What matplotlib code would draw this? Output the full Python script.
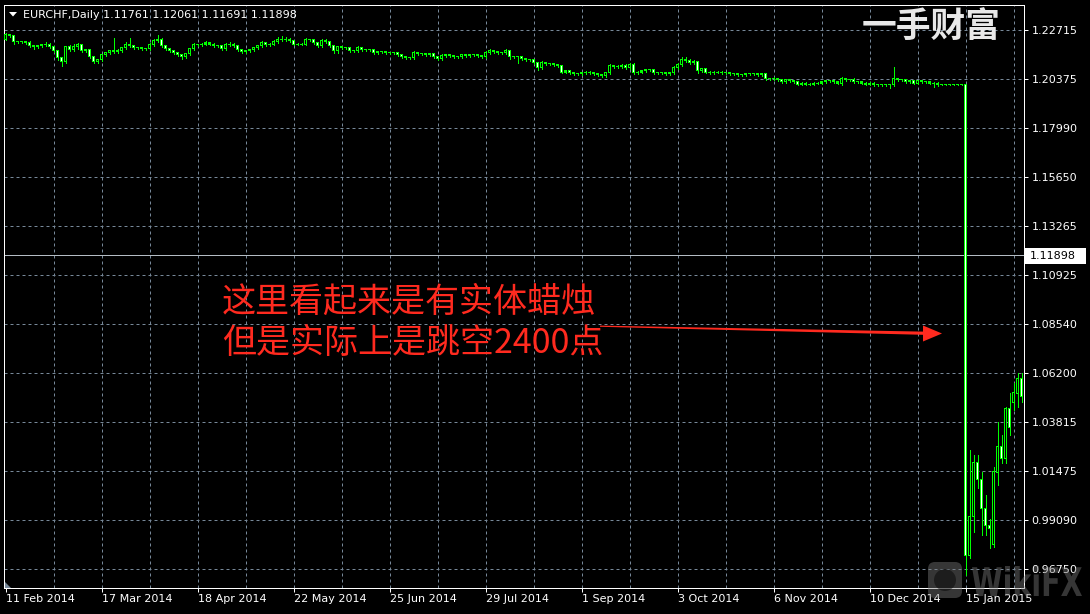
import matplotlib
matplotlib.use("Agg")
import matplotlib.pyplot as plt
from matplotlib.patches import Rectangle, Polygon, FancyBboxPatch, PathPatch, Circle
from matplotlib.collections import PatchCollection
from matplotlib.textpath import TextPath
from matplotlib.font_manager import FontProperties
from matplotlib.transforms import Affine2D

# ---------------- data ----------------
symbol = "EURCHF,Daily"
header_ohlc = ["1.11761", "1.12061", "1.11691", "1.11898"]
bid_price = 1.11898

date_labels = ["11 Feb 2014", "17 Mar 2014", "18 Apr 2014", "22 May 2014", "25 Jun 2014",
               "29 Jul 2014", "1 Sep 2014", "3 Oct 2014", "6 Nov 2014", "10 Dec 2014",
               "15 Jan 2015"]
date_label_bars = [0, 24, 48, 72, 96, 120, 144, 168, 192, 216, 240]

price_ticks = [1.22715, 1.20375, 1.17990, 1.15650, 1.13265, 1.10925,
               1.08540, 1.06200, 1.03815, 1.01475, 0.99090, 0.96750]

closes = [
    1.2249, 1.2244, 1.2215, 1.2215, 1.2215, 1.2210, 1.2196, 1.2191, 1.2196, 1.2201,
    1.2205, 1.2191, 1.2172, 1.2138, 1.2119, 1.2191, 1.2177, 1.2191, 1.2201, 1.2172,
    1.2177, 1.2143, 1.2119, 1.2128, 1.2153, 1.2162, 1.2172, 1.2167, 1.2172, 1.2186,
    1.2205, 1.2196, 1.2186, 1.2186, 1.2181, 1.2181, 1.2201, 1.2220, 1.2229, 1.2196,
    1.2181, 1.2172, 1.2162, 1.2153, 1.2143, 1.2157, 1.2181, 1.2201, 1.2201, 1.2205,
    1.2210, 1.2205, 1.2196, 1.2196, 1.2181, 1.2201, 1.2205, 1.2196, 1.2177, 1.2167,
    1.2172, 1.2177, 1.2186, 1.2196, 1.2210, 1.2201, 1.2205, 1.2215, 1.2229, 1.2225,
    1.2229, 1.2220, 1.2205, 1.2205, 1.2205, 1.2225, 1.2225, 1.2210, 1.2196, 1.2220,
    1.2215, 1.2196, 1.2172, 1.2191, 1.2186, 1.2186, 1.2172, 1.2172, 1.2186, 1.2177,
    1.2177, 1.2177, 1.2162, 1.2167, 1.2167, 1.2162, 1.2162, 1.2162, 1.2153, 1.2143,
    1.2138, 1.2138, 1.2162, 1.2157, 1.2157, 1.2153, 1.2157, 1.2143, 1.2133, 1.2148,
    1.2153, 1.2148, 1.2143, 1.2143, 1.2153, 1.2148, 1.2153, 1.2153, 1.2148, 1.2143,
    1.2162, 1.2172, 1.2167, 1.2162, 1.2162, 1.2172, 1.2143, 1.2143, 1.2143, 1.2133,
    1.2128, 1.2128, 1.2114, 1.2090, 1.2114, 1.2109, 1.2109, 1.2104, 1.2099, 1.2070,
    1.2075, 1.2066, 1.2061, 1.2061, 1.2066, 1.2070, 1.2066, 1.2061, 1.2056, 1.2051,
    1.2066, 1.2099, 1.2095, 1.2095, 1.2099, 1.2090, 1.2104, 1.2066, 1.2070, 1.2075,
    1.2080, 1.2080, 1.2066, 1.2066, 1.2066, 1.2061, 1.2066, 1.2090, 1.2104, 1.2128,
    1.2124, 1.2114, 1.2119, 1.2075, 1.2085, 1.2070, 1.2066, 1.2070, 1.2070, 1.2066,
    1.2066, 1.2061, 1.2061, 1.2056, 1.2056, 1.2061, 1.2061, 1.2061, 1.2056, 1.2061,
    1.2037, 1.2037, 1.2037, 1.2032, 1.2022, 1.2032, 1.2027, 1.2022, 1.2012, 1.2017,
    1.2012, 1.2012, 1.2017, 1.2017, 1.2022, 1.2027, 1.2027, 1.2022, 1.2017, 1.2037,
    1.2032, 1.2032, 1.2022, 1.2022, 1.2017, 1.2012, 1.2017, 1.2008, 1.2008, 1.2008,
    1.2008, 1.2008, 1.2037, 1.2032, 1.2032, 1.2022, 1.2027, 1.2017, 1.2027, 1.2022,
    1.2022, 1.2017, 1.2017, 1.2008, 1.2008, 1.2008, 1.2008, 1.2008, 1.2008, 1.2008,
    0.9742, 0.9930, 1.0188, 1.0104, 0.9964, 0.9882, 0.9868, 1.0143, 1.0263, 1.0205,
    1.0446, 1.0355, 1.0523, 1.0591, 1.0504,
]

opens = [
    1.2229,
    1.2249, 1.2244, 1.2215, 1.2215, 1.2215, 1.2210, 1.2196, 1.2191, 1.2196, 1.2201,
    1.2205, 1.2191, 1.2172, 1.2138, 1.2119, 1.2191, 1.2177, 1.2191, 1.2201, 1.2172,
    1.2177, 1.2143, 1.2119, 1.2128, 1.2153, 1.2162, 1.2172, 1.2167, 1.2172, 1.2186,
    1.2205, 1.2196, 1.2186, 1.2186, 1.2181, 1.2181, 1.2201, 1.2220, 1.2229, 1.2196,
    1.2181, 1.2172, 1.2162, 1.2153, 1.2143, 1.2157, 1.2181, 1.2201, 1.2201, 1.2205,
    1.2210, 1.2205, 1.2196, 1.2196, 1.2181, 1.2201, 1.2205, 1.2196, 1.2177, 1.2167,
    1.2172, 1.2177, 1.2186, 1.2196, 1.2210, 1.2201, 1.2205, 1.2215, 1.2229, 1.2225,
    1.2229, 1.2220, 1.2205, 1.2205, 1.2205, 1.2225, 1.2225, 1.2210, 1.2196, 1.2220,
    1.2215, 1.2196, 1.2172, 1.2191, 1.2186, 1.2186, 1.2172, 1.2172, 1.2186, 1.2177,
    1.2177, 1.2177, 1.2162, 1.2167, 1.2167, 1.2162, 1.2162, 1.2162, 1.2153, 1.2143,
    1.2138, 1.2138, 1.2162, 1.2157, 1.2157, 1.2153, 1.2157, 1.2143, 1.2133, 1.2148,
    1.2153, 1.2148, 1.2143, 1.2143, 1.2153, 1.2148, 1.2153, 1.2153, 1.2148, 1.2143,
    1.2162, 1.2172, 1.2167, 1.2162, 1.2162, 1.2172, 1.2143, 1.2143, 1.2143, 1.2133,
    1.2128, 1.2128, 1.2114, 1.2090, 1.2114, 1.2109, 1.2109, 1.2104, 1.2099, 1.2070,
    1.2075, 1.2066, 1.2061, 1.2061, 1.2066, 1.2070, 1.2066, 1.2061, 1.2056, 1.2051,
    1.2066, 1.2099, 1.2095, 1.2095, 1.2099, 1.2090, 1.2104, 1.2066, 1.2070, 1.2075,
    1.2080, 1.2080, 1.2066, 1.2066, 1.2066, 1.2061, 1.2066, 1.2090, 1.2104, 1.2128,
    1.2124, 1.2114, 1.2119, 1.2075, 1.2085, 1.2070, 1.2066, 1.2070, 1.2070, 1.2066,
    1.2066, 1.2061, 1.2061, 1.2056, 1.2056, 1.2061, 1.2061, 1.2061, 1.2056, 1.2061,
    1.2037, 1.2037, 1.2037, 1.2032, 1.2022, 1.2032, 1.2027, 1.2022, 1.2012, 1.2017,
    1.2012, 1.2012, 1.2017, 1.2017, 1.2022, 1.2027, 1.2027, 1.2022, 1.2017, 1.2037,
    1.2032, 1.2032, 1.2022, 1.2022, 1.2017, 1.2012, 1.2017, 1.2008, 1.2008, 1.2008,
    1.2008, 1.2008, 1.2037, 1.2032, 1.2032, 1.2022, 1.2027, 1.2017, 1.2027, 1.2022,
    1.2022, 1.2017, 1.2017, 1.2008, 1.2008, 1.2008, 1.2008, 1.2008, 1.2008, 1.2008,
    0.9738, 0.9930, 1.0188, 1.0104, 0.9964, 0.9882, 0.9791, 1.0138, 1.0263, 1.0205,
    1.0446, 1.0475, 1.0519, 1.0591,
]

# wick lengths above / below the candle body (price units)
upper_wicks = [
    0.0010, 0.0005, 0.0005, 0.0005, 0.0005, 0.0005, 0.0010, 0.0005, 0.0005, 0.0005,
    0.0010, 0.0005, 0.0005, 0.0005, 0.0005, 0.0005, 0.0010, 0.0015, 0.0010, 0.0005,
    0.0005, 0.0005, 0.0005, 0.0005, 0.0005, 0.0005, 0.0005, 0.0062, 0.0010, 0.0005,
    0.0010, 0.0029, 0.0005, 0.0005, 0.0005, 0.0005, 0.0010, 0.0010, 0.0020, 0.0005,
    0.0005, 0.0005, 0.0005, 0.0005, 0.0005, 0.0005, 0.0005, 0.0010, 0.0005, 0.0005,
    0.0010, 0.0005, 0.0005, 0.0005, 0.0005, 0.0010, 0.0010, 0.0005, 0.0005, 0.0005,
    0.0005, 0.0005, 0.0005, 0.0005, 0.0010, 0.0005, 0.0005, 0.0010, 0.0010, 0.0015,
    0.0010, 0.0005, 0.0005, 0.0005, 0.0005, 0.0010, 0.0005, 0.0005, 0.0005, 0.0010,
    0.0010, 0.0005, 0.0005, 0.0005, 0.0005, 0.0005, 0.0005, 0.0005, 0.0010, 0.0005,
    0.0005, 0.0005, 0.0005, 0.0005, 0.0005, 0.0005, 0.0005, 0.0005, 0.0005, 0.0005,
    0.0005, 0.0005, 0.0010, 0.0005, 0.0005, 0.0005, 0.0005, 0.0005, 0.0005, 0.0010,
    0.0005, 0.0005, 0.0005, 0.0005, 0.0005, 0.0005, 0.0005, 0.0005, 0.0005, 0.0005,
    0.0010, 0.0010, 0.0005, 0.0005, 0.0005, 0.0010, 0.0005, 0.0005, 0.0005, 0.0005,
    0.0005, 0.0005, 0.0005, 0.0005, 0.0010, 0.0005, 0.0005, 0.0005, 0.0005, 0.0005,
    0.0005, 0.0005, 0.0005, 0.0005, 0.0005, 0.0005, 0.0005, 0.0005, 0.0005, 0.0005,
    0.0005, 0.0010, 0.0005, 0.0010, 0.0010, 0.0010, 0.0010, 0.0010, 0.0005, 0.0005,
    0.0005, 0.0005, 0.0005, 0.0005, 0.0005, 0.0005, 0.0005, 0.0010, 0.0010, 0.0015,
    0.0015, 0.0010, 0.0010, 0.0005, 0.0005, 0.0005, 0.0005, 0.0005, 0.0005, 0.0005,
    0.0005, 0.0005, 0.0005, 0.0005, 0.0005, 0.0005, 0.0005, 0.0005, 0.0005, 0.0005,
    0.0005, 0.0005, 0.0010, 0.0005, 0.0005, 0.0005, 0.0005, 0.0005, 0.0005, 0.0005,
    0.0005, 0.0005, 0.0005, 0.0005, 0.0005, 0.0005, 0.0005, 0.0005, 0.0005, 0.0010,
    0.0005, 0.0005, 0.0010, 0.0005, 0.0005, 0.0005, 0.0005, 0.0005, 0.0005, 0.0005,
    0.0005, 0.0005, 0.0058, 0.0005, 0.0005, 0.0005, 0.0005, 0.0005, 0.0005, 0.0005,
    0.0005, 0.0005, 0.0005, 0.0005, 0.0002, 0.0002, 0.0002, 0.0002, 0.0002, 0.0002,
    0.0004, 0.0319, 0.0036, 0.0036, 0.0039, 0.0068, 0.0034, 0.0024, 0.0121, 0.0058,
    0.0010, 0.0077, 0.0049, 0.0029, 0.0029,
]

lower_wicks = [
    0.0005, 0.0005, 0.0010, 0.0005, 0.0005, 0.0005, 0.0005, 0.0010, 0.0005, 0.0005,
    0.0005, 0.0005, 0.0005, 0.0010, 0.0020, 0.0005, 0.0005, 0.0005, 0.0010, 0.0005,
    0.0005, 0.0005, 0.0005, 0.0005, 0.0005, 0.0005, 0.0005, 0.0005, 0.0005, 0.0005,
    0.0005, 0.0005, 0.0005, 0.0005, 0.0005, 0.0005, 0.0005, 0.0005, 0.0005, 0.0005,
    0.0005, 0.0005, 0.0005, 0.0005, 0.0010, 0.0005, 0.0005, 0.0005, 0.0005, 0.0005,
    0.0005, 0.0005, 0.0005, 0.0005, 0.0005, 0.0005, 0.0005, 0.0005, 0.0005, 0.0005,
    0.0005, 0.0005, 0.0005, 0.0005, 0.0005, 0.0005, 0.0005, 0.0005, 0.0005, 0.0005,
    0.0005, 0.0005, 0.0005, 0.0005, 0.0005, 0.0005, 0.0005, 0.0005, 0.0005, 0.0005,
    0.0005, 0.0005, 0.0010, 0.0010, 0.0005, 0.0005, 0.0005, 0.0005, 0.0005, 0.0005,
    0.0005, 0.0005, 0.0005, 0.0005, 0.0005, 0.0005, 0.0005, 0.0005, 0.0005, 0.0005,
    0.0005, 0.0005, 0.0005, 0.0005, 0.0005, 0.0005, 0.0005, 0.0005, 0.0005, 0.0005,
    0.0005, 0.0005, 0.0005, 0.0005, 0.0005, 0.0005, 0.0005, 0.0005, 0.0005, 0.0005,
    0.0005, 0.0005, 0.0005, 0.0005, 0.0005, 0.0005, 0.0010, 0.0005, 0.0029, 0.0005,
    0.0005, 0.0005, 0.0005, 0.0010, 0.0005, 0.0005, 0.0005, 0.0005, 0.0005, 0.0005,
    0.0005, 0.0005, 0.0005, 0.0005, 0.0005, 0.0005, 0.0005, 0.0005, 0.0005, 0.0005,
    0.0005, 0.0005, 0.0005, 0.0005, 0.0005, 0.0005, 0.0005, 0.0005, 0.0005, 0.0005,
    0.0005, 0.0005, 0.0005, 0.0005, 0.0005, 0.0005, 0.0005, 0.0005, 0.0005, 0.0005,
    0.0005, 0.0005, 0.0005, 0.0010, 0.0005, 0.0005, 0.0005, 0.0005, 0.0005, 0.0005,
    0.0005, 0.0005, 0.0005, 0.0005, 0.0005, 0.0005, 0.0005, 0.0005, 0.0005, 0.0005,
    0.0005, 0.0005, 0.0005, 0.0005, 0.0005, 0.0005, 0.0005, 0.0005, 0.0005, 0.0005,
    0.0005, 0.0005, 0.0005, 0.0005, 0.0005, 0.0005, 0.0005, 0.0005, 0.0005, 0.0010,
    0.0005, 0.0005, 0.0005, 0.0005, 0.0005, 0.0005, 0.0005, 0.0005, 0.0005, 0.0005,
    0.0005, 0.0014, 0.0005, 0.0005, 0.0005, 0.0005, 0.0005, 0.0005, 0.0005, 0.0005,
    0.0005, 0.0005, 0.0019, 0.0005, 0.0002, 0.0002, 0.0002, 0.0002, 0.0002, 0.0002,
    0.0096, 0.0010, 0.0077, 0.0039, 0.0125, 0.0043, 0.0092, 0.0010, 0.0058, 0.0019,
    0.0019, 0.0034, 0.0034, 0.0063, 0.0024,
]

annotation_lines = ["这里看起来是有实体蜡烛", "但是实际上是跳空2400点"]
brand_text = "一手财富"
watermark_text = "WikiFX"

# ---------------- style ----------------
W, H = 1090, 614
LIME = "#00ff00"
GRID = "#778899"
PX = 72.0 / 100.0  # one pixel in points

plt.rcParams["font.family"] = ["DejaVu Sans"]
CJK = ["Noto Sans CJK SC", "DejaVu Sans"]

fig = plt.figure(figsize=(W / 100, H / 100), dpi=100, facecolor="black")
AX_H_PX = 583
ax = fig.add_axes([4 / W, (H - 588) / H, 1020 / W, AX_H_PX / H])
ax.set_facecolor("black")

n = len(closes)
assert len(opens) == n and len(upper_wicks) == n and len(lower_wicks) == n
idx = list(range(n))
highs = [max(o, c) + u for o, c, u in zip(opens, closes, upper_wicks)]
lows = [min(o, c) - d for o, c, d in zip(opens, closes, lower_wicks)]

XL = (-0.375, 254.625)   # 4 px per bar, bar centred on a pixel column
YL = (0.9583, 1.2393)
ax.set_xlim(*XL)
ax.set_ylim(*YL)
YPX = (YL[1] - YL[0]) / AX_H_PX   # one pixel in price units

# grid
grid_bars = list(range(12, n, 12))
ax.vlines(grid_bars, YL[0], YL[1], colors=GRID, linewidth=PX,
          linestyles=(0, (3, 3)), zorder=1)
ax.hlines(price_ticks, XL[0], XL[1], colors=GRID, linewidth=PX,
          linestyles=(0, (3, 3)), zorder=1)
ax.axhline(bid_price, color="#b4bcc4", linewidth=PX, zorder=1.5)

# candles: wick, 3-px lime body, 1-px inner fill (black = up, white = down)
ax.vlines(idx, lows, highs, colors=LIME, linewidth=PX, zorder=2, antialiased=False)
outer, inner, inner_fc = [], [], []
for i, o, c in zip(idx, opens, closes):
    lo, hi = min(o, c), max(o, c)
    outer.append(Rectangle((i - 0.375, lo - 0.5 * YPX), 0.75, hi - lo + YPX))
    if hi - lo > 1.2 * YPX:
        inner.append(Rectangle((i - 0.125, lo + 0.5 * YPX), 0.25, hi - lo - YPX))
        inner_fc.append("white" if c < o else "black")
ax.add_collection(PatchCollection(outer, facecolor=LIME, edgecolor="none",
                                  zorder=3, antialiased=False))
ax.add_collection(PatchCollection(inner, facecolors=inner_fc, edgecolor="none",
                                  zorder=4, antialiased=False))

# axes styling
for s in ax.spines.values():
    s.set_color("white")
    s.set_linewidth(PX)
ax.yaxis.tick_right()
ax.set_yticks(price_ticks)
ax.set_yticklabels([f"{v:.5f}" for v in price_ticks])
ax.set_xticks(date_label_bars)
ax.set_xticklabels(date_labels, ha="left")
ax.tick_params(axis="y", direction="out", length=3, width=PX, colors="white",
               labelsize=8, pad=2.5)
ax.tick_params(axis="x", direction="out", length=3, width=PX, colors="white",
               labelsize=8, pad=1.5)

# ---------------- overlay (pixel coordinates) ----------------
ov = fig.add_axes([0, 0, 1, 1])
ov.set_xlim(0, W)
ov.set_ylim(H, 0)
ov.axis("off")
ov.patch.set_alpha(0)
ov.set_zorder(5)

# header
ov.add_patch(Polygon([(9, 12), (17, 12), (13, 16.5)], closed=True, color="white", lw=0))
ov.text(23, 14.5, symbol + " " + " ".join(header_ohlc), color="white", fontsize=8,
        va="center", ha="left")

# shift marker
ov.add_patch(Polygon([(4.5, 582), (4.5, 588), (11, 588)], closed=True, color=GRID, lw=0))

# bid price label
ov.add_patch(Rectangle((1025, 248), 61, 16, facecolor="white", edgecolor="none"))
ov.text(1030, 256, f"{bid_price:.5f}", color="black", fontsize=8, va="center", ha="left")

# brand
ov.text(862, 26, brand_text, color="#e8e8e8", fontsize=25, fontweight="bold",
        family=CJK, va="center", ha="left")

# annotation
ov.text(222, 302, annotation_lines[0], color="#ff2a1f", fontsize=24.5, family=CJK,
        va="center", ha="left")
ov.text(222, 343, annotation_lines[1], color="#ff2a1f", fontsize=24.5, family=CJK,
        va="center", ha="left")
arrow = Polygon([(600, 325.6), (923, 331.6), (923, 325.5), (942, 333.5),
                 (923, 341.5), (923, 334.8), (600, 326.8)], closed=True,
                facecolor="#ff2a1f", edgecolor="none")
ov.add_patch(arrow)

# watermark
ov.add_patch(FancyBboxPatch((928, 562), 34, 36, boxstyle="round,pad=0,rounding_size=7",
                            facecolor="#7a7a7a", edgecolor="none", alpha=0.45))
ov.add_patch(Circle((945, 580), 11, facecolor="black", edgecolor="none", alpha=0.45))
fp = FontProperties(family="DejaVu Sans", weight="bold")
tp = TextPath((0, 0), watermark_text, size=1, prop=fp)
bb = tp.get_extents()
sx = (1082 - 972) / bb.width
sy = (596 - 566) / bb.height
tr = Affine2D().translate(-bb.x0, -bb.y0).scale(sx, -sy).translate(972, 596)
ov.add_patch(PathPatch(tr.transform_path(tp), facecolor="#7a7a7a", edgecolor="none",
                       alpha=0.45))

fig.savefig("out.png", dpi=100, facecolor="black")
